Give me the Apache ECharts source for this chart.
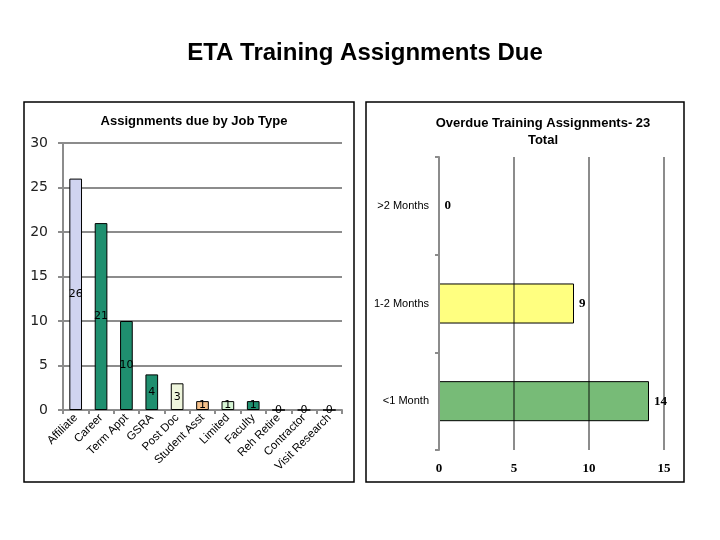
<!DOCTYPE html>
<html>
<head>
<meta charset="utf-8">
<script src="https://cdn.jsdelivr.net/npm/echarts@6/dist/echarts.min.js"></script>
<style>html,body{margin:0;padding:0;background:#fff}#c{width:720px;height:540px}</style>
</head>
<body>
<div id="c"></div>
<script>
const jobTypes = ['Affiliate','Career','Term Appt','GSRA','Post Doc','Student Asst','Limited','Faculty','Reh Retire','Contractor','Visit Research'];
const jobValues = [26,21,10,4,3,1,1,1,0,0,0];
const jobColors = ['#d0d4f0','#1f8f6f','#1f8f6f','#1f8f6f','#eef5dc','#f5c08a','#d6f5d4','#1f8f6f','#1f8f6f','#1f8f6f','#1f8f6f'];
const overdueCats = ['<1 Month','1-2 Months','>2 Months'];
const overdueValues = [14,9,0];
const overdueColors = ['#77bb77','#ffff80','#77bb77'];
const leftTicks = [0,5,10,15,20,25,30];

const chart = echarts.init(document.getElementById('c'));
const gray = '#8c8c8c';
chart.setOption({
  animation: false,
  backgroundColor: '#fff',
  title: [
    {text: 'ETA Training Assignments Due', left: 360, top: 36, textAlign: 'center',
     textStyle: {fontFamily: 'Liberation Sans, Arial', fontSize: 24, fontWeight: 'bold', color: '#000'}},
    {text: 'Assignments due by Job Type', left: 189, top: 110, textAlign: 'center',
     textStyle: {fontFamily: 'Liberation Sans, Arial', fontSize: 13, fontWeight: 'bold', color: '#000'}},
    {text: 'Overdue Training Assignments- 23\nTotal', left: 538, top: 110, textAlign: 'center',
     textStyle: {fontFamily: 'Liberation Sans, Arial', fontSize: 13, fontWeight: 'bold', color: '#000', lineHeight: 17}}
  ],
  graphic: [
    {type: 'rect', shape: {x: 24, y: 102, width: 330, height: 380}, style: {fill: 'none', stroke: '#000', lineWidth: 1.5}, z: 10},
    {type: 'rect', shape: {x: 366, y: 102, width: 318, height: 380}, style: {fill: 'none', stroke: '#000', lineWidth: 1.5}, z: 10}
  ],
  grid: [
    {left: 63, right: 378, top: 143, bottom: 130},
    {left: 439, right: 56, top: 157, bottom: 90}
  ],
  xAxis: [
    {gridIndex: 0, type: 'category', data: jobTypes,
     axisLine: {lineStyle: {color: gray, width: 2}},
     axisTick: {show: true, length: 4, lineStyle: {color: gray, width: 2}},
     axisLabel: {rotate: 45, fontFamily: 'Liberation Sans, Arial', fontSize: 11.5, color: '#000', margin: 6, interval: 0}},
    {gridIndex: 1, type: 'value', min: 0, max: 15, interval: 5, z: 3,
     axisLine: {show: false}, axisTick: {show: false},
     splitLine: {show: true, lineStyle: {color: 'rgba(0,0,0,0.45)', width: 2}},
     axisLabel: {fontFamily: 'Liberation Serif, Times New Roman', fontWeight: 'bold', fontSize: 13, color: '#000', margin: 12}}
  ],
  yAxis: [
    {gridIndex: 0, type: 'value', min: 0, max: 30, interval: 5,
     axisLine: {show: true, lineStyle: {color: gray, width: 2}},
     axisTick: {show: true, length: 5, lineStyle: {color: gray, width: 2}},
     splitLine: {show: true, lineStyle: {color: gray, width: 2}},
     axisLabel: {fontFamily: 'DejaVu Sans, Verdana', fontSize: 14, color: '#222', margin: 15,
       formatter: v => leftTicks.includes(v) ? String(v) : ''}},
    {gridIndex: 1, type: 'category', data: overdueCats, z: 3,
     axisLine: {show: true, lineStyle: {color: gray, width: 2}},
     axisTick: {show: true, length: 4, lineStyle: {color: gray, width: 2}},
     splitLine: {show: false},
     axisLabel: {fontFamily: 'Liberation Sans, Arial', fontSize: 11, color: '#000', margin: 10}}
  ],
  series: [
    {type: 'bar', xAxisIndex: 0, yAxisIndex: 0, barCategoryGap: '50%',
     data: jobValues.map((v, i) => ({value: v, itemStyle: {color: jobColors[i]}})),
     itemStyle: {borderColor: '#000', borderWidth: 1},
     label: {show: true, position: 'inside', fontFamily: 'DejaVu Sans, Verdana', fontSize: 11, color: '#000'}},
    {type: 'bar', xAxisIndex: 1, yAxisIndex: 1, barCategoryGap: '59%',
     data: overdueValues.map((v, i) => ({value: v, itemStyle: {color: overdueColors[i]}})),
     itemStyle: {borderColor: '#000', borderWidth: 1},
     label: {show: true, position: 'right', distance: 5, fontFamily: 'Liberation Serif, Times New Roman', fontWeight: 'bold', fontSize: 13, color: '#000'}}
  ]
});
</script>
</body>
</html>
